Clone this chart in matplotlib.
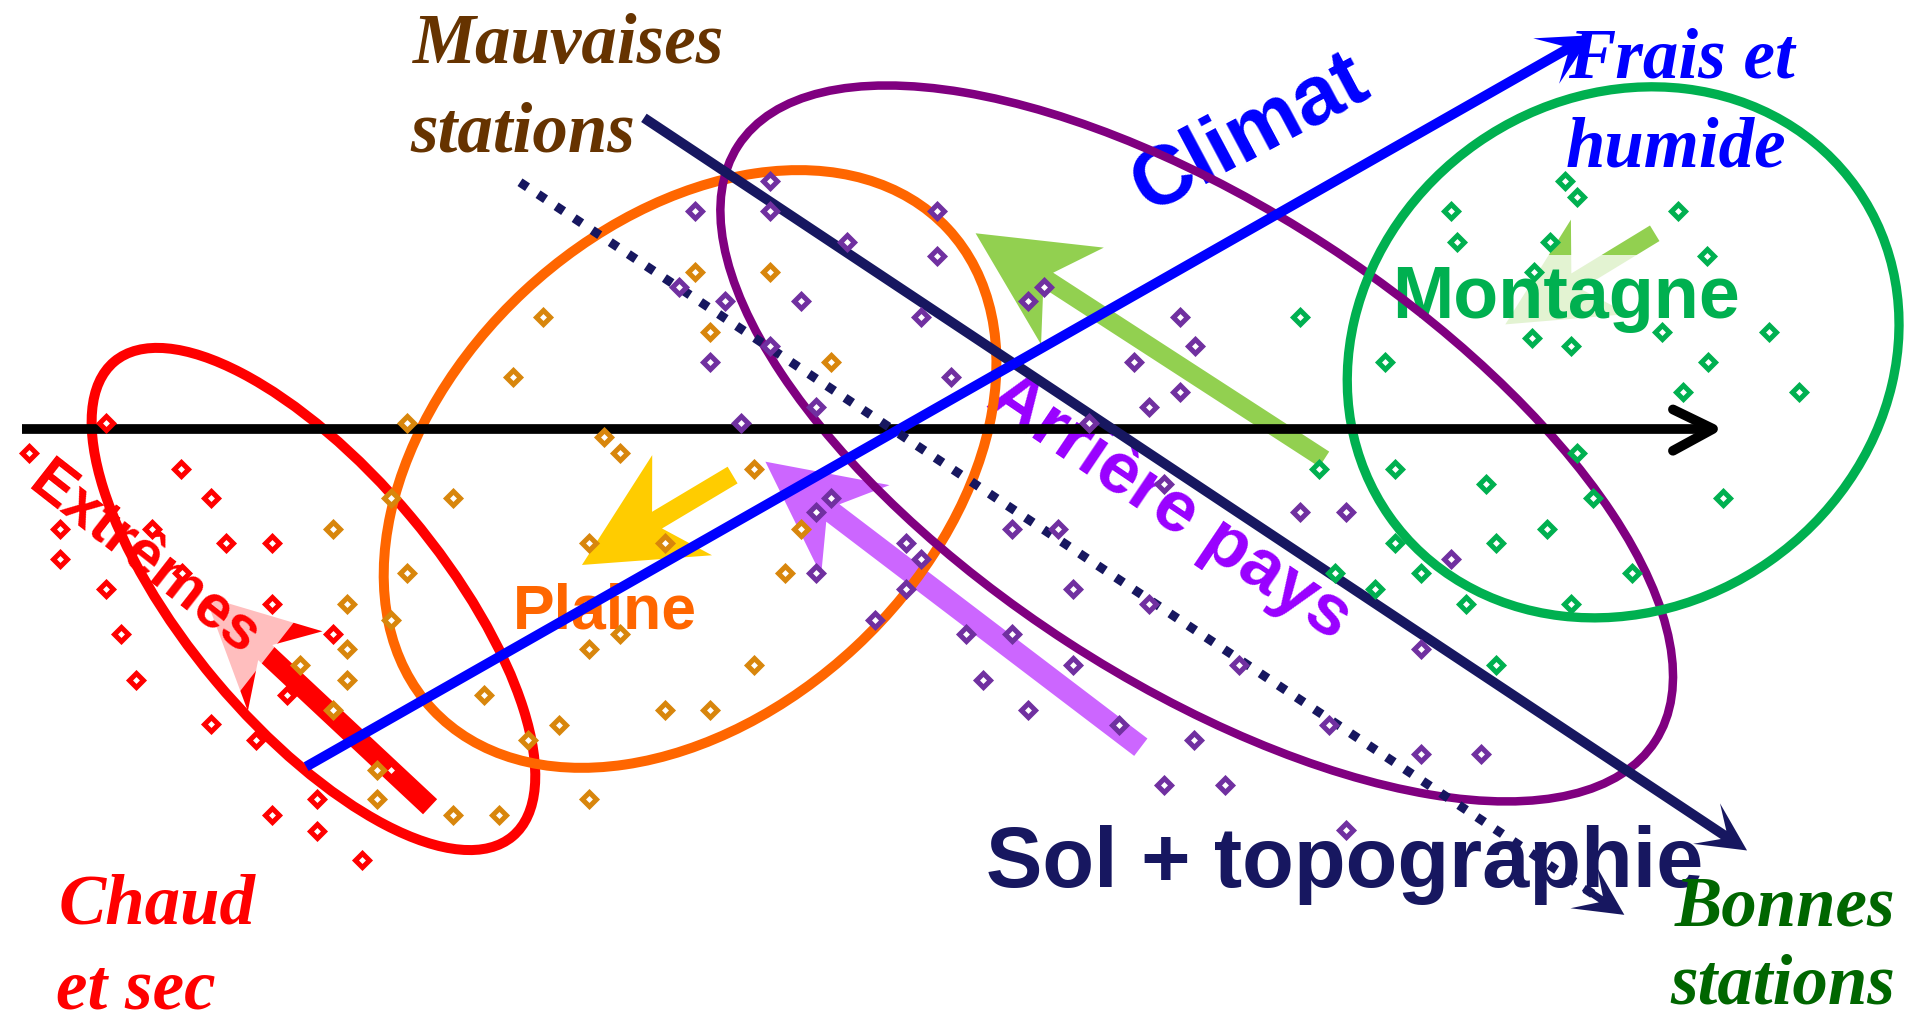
import matplotlib
matplotlib.use("Agg")
import matplotlib.pyplot as plt
from matplotlib.patches import Ellipse, FancyArrow

# drawing units follow the reference screen (1 unit = 1.215 px)
W, H = 1568, 842
PX = 1905 / W


def pt(u):
    """drawing units -> points"""
    return u * PX * 72 / 100


# ---- stations (hollow diamonds) ----
red_x = [87, 24, 149, 174, 49, 125, 186, 224, 49, 150, 87, 224, 100, 274,
         112, 236, 174, 211, 261, 224, 261, 298, 322]
red_y = [348, 373, 386, 410, 435, 435, 447, 447, 460, 472, 485, 497, 522, 522,
         560, 572, 596, 609, 658, 671, 684, 708, 634]

orange_x = [335, 422, 447, 497, 510, 572, 584, 634, 684, 621, 322, 373, 274,
            485, 547, 659, 646, 335, 286, 322, 510, 485, 286, 247, 286, 621,
            398, 274, 460, 547, 584, 435, 310, 310, 373, 411, 485]
orange_y = [348, 310, 261, 360, 373, 224, 273, 224, 298, 386, 410, 410, 435,
            447, 447, 435, 472, 472, 497, 510, 522, 534, 534, 547, 560, 547,
            572, 584, 597, 584, 584, 609, 634, 658, 671, 671, 658]

purple_x = [634, 572, 634, 771, 697, 771, 559, 597, 659, 758, 634, 584, 783,
            672, 610, 684, 672, 672, 746, 758, 746, 720, 795, 859, 846, 971,
            984, 933, 971, 946, 896, 958, 1070, 1108, 833, 871, 883, 946,
            833, 883, 809, 1020, 846, 921, 1194, 1170, 1094, 983, 1170, 1219,
            958, 1008, 1108]
purple_y = [149, 174, 174, 174, 199, 211, 236, 248, 248, 261, 285, 298, 310,
            335, 348, 410, 421, 472, 447, 460, 485, 510, 522, 236, 248, 261,
            285, 298, 323, 335, 348, 398, 421, 421, 435, 435, 485, 497,
            522, 547, 560, 547, 584, 597, 460, 534, 597, 609, 621, 621,
            646, 646, 683]

green_x = [1288, 1298, 1194, 1381, 1199, 1276, 1405, 1263, 1070, 1261, 1293,
           1368, 1456, 1140, 1406, 1385, 1481, 1298, 1086, 1148, 1223, 1311,
           1418, 1273, 1231, 1148, 1099, 1170, 1132, 1343, 1207, 1293, 1231]
green_y = [149, 162, 174, 174, 199, 199, 211, 224, 261, 278, 285, 273, 273,
           298, 298, 323, 323, 373, 386, 386, 398, 410, 410, 435, 447, 447,
           472, 472, 485, 472, 497, 497, 547]

# ---- groups (ellipses) ----
ell_center = [(258, 493), (568, 386), (985, 365), (1336, 290)]
ell_width = [510, 580, 900, 470]
ell_height = [210, 400, 390, 420]
ell_angle = [50, -43, 33, -35]
ell_color = ["#ff0000", "#ff6600", "#800080", "#00b050"]
ell_lw = [10, 10, 8.5, 9.3]  # px

# ---- block arrows: tail -> tip ----
blk_tail = [(354, 664), (603, 391), (939, 615), (1090, 378), (1362, 192)]
blk_tip = [(169, 491), (479, 465), (630, 380), (803, 192), (1239, 267)]
blk_width = [17, 16, 18, 15, 15]
blk_head = [90, 96, 93, 95, 91]
blk_color = ["#ff0000", "#ffcc00", "#cc66ff", "#92d050", "#92d050"]

# ---- axes of the diagram ----
navy = "#171760"
solid_tail, solid_tip = (530, 97), (1438, 700)
dotted_tail, dotted_tip = (428, 150), (1337, 753)
blue_tail, blue_tip = (252, 631), (1310, 29)
black_x = [18, 1410]
black_y = [353, 353]

fig = plt.figure(figsize=(19.05, 10.23), dpi=100)
ax = fig.add_axes([0, 0, 1, 1])
ax.set_xlim(0, W)
ax.set_ylim(H, 0)
ax.axis("off")

# block arrows
for (x0, y0), (x1, y1), w, hd, c in zip(blk_tail, blk_tip, blk_width,
                                         blk_head, blk_color):
    ax.add_patch(FancyArrow(x0, y0, x1 - x0, y1 - y0, width=w,
                            head_width=hd, head_length=hd, overhang=0.25,
                            length_includes_head=True, color=c, lw=0,
                            zorder=1))

# labels with translucent boxes go over the block arrows
box = dict(boxstyle="square,pad=0.12", fc="white", ec="none", alpha=0.75)
sans = "Liberation Sans"
ax.text(1289, 262, "Montagne", color="#00b050", fontsize=53, family=sans,
        weight="bold", ha="center", va="baseline", bbox=box, zorder=2)
ax.text(119, 461, "Extrêmes", color="#ff0000", fontsize=44, family=sans,
        weight="bold", ha="center", va="center", rotation=-38,
        rotation_mode="anchor", bbox=dict(box, boxstyle="square,pad=0.3"),
        zorder=2)
ax.text(1029, 110, "Climat", color="#0000ff", fontsize=60, family=sans,
        weight="bold", ha="center", va="center", rotation=28,
        rotation_mode="anchor", zorder=2)
ax.text(963, 418, "Arrière pays", color="#9900ff", fontsize=52, family=sans,
        weight="bold", ha="center", va="center", rotation=-34,
        rotation_mode="anchor", zorder=2)
ax.text(498, 517, "Plaine", color="#ff6600", fontsize=45, family=sans,
        weight="bold", ha="center", va="baseline", zorder=2)
ax.text(1107, 730, "Sol + topographie", color=navy, fontsize=61, family=sans,
        weight="bold", ha="center", va="baseline", zorder=2)

serif = dict(family="Liberation Serif", style="italic", weight="bold",
             fontsize=51, ha="left", va="baseline", zorder=2)
ax.text(340, 52, "Mauvaises", color="#663300", **serif)
ax.text(338, 125, "stations", color="#663300", **serif)
ax.text(1291, 64, "Frais et", color="#0000ff", **serif)
ax.text(1289, 137, "humide", color="#0000ff", **serif)
ax.text(48, 760, "Chaud", color="#ff0000", **serif)
ax.text(46, 830, "et sec", color="#ff0000", **serif)
ax.text(1378, 762, "Bonnes", color="#006600", **serif)
ax.text(1375, 826, "stations", color="#006600", **serif)

# ellipses
for c, w, h, a, col, lw in zip(ell_center, ell_width, ell_height, ell_angle,
                               ell_color, ell_lw):
    ax.add_patch(Ellipse(c, w, h, angle=a, fill=False, ec=col,
                         lw=lw * 0.72, zorder=3))

# horizontal black axis with open chevron
ax.plot(black_x, black_y, color="black", lw=7, solid_capstyle="butt",
        zorder=3)
ax.plot([black_x[1] - 33, black_x[1], black_x[1] - 33],
        [black_y[1] - 16, black_y[1], black_y[1] + 18], color="black", lw=7,
        solid_capstyle="round", solid_joinstyle="round", zorder=3)

# solid navy + blue arrows
for (x0, y0), (x1, y1), col, hd in [(solid_tail, solid_tip, navy, 40),
                                    (blue_tail, blue_tip, "#0000ff", 43)]:
    ax.add_patch(FancyArrow(x0, y0, x1 - x0, y1 - y0, width=8.2,
                            head_width=hd, head_length=hd, overhang=0.42,
                            length_includes_head=True, color=col, lw=0,
                            zorder=3))

# dotted navy arrow
dx = dotted_tip[0] - dotted_tail[0]
dy = dotted_tip[1] - dotted_tail[1]
L = (dx ** 2 + dy ** 2) ** 0.5
f = (L - 30) / L
ax.plot([dotted_tail[0], dotted_tail[0] + dx * f],
        [dotted_tail[1], dotted_tail[1] + dy * f], color=navy, lw=6.5,
        linestyle=(0, (1, 1.4)), dash_capstyle="butt", zorder=3)
hx, hy = dotted_tip[0] - dx * 40 / L, dotted_tip[1] - dy * 40 / L
ax.add_patch(FancyArrow(hx, hy, dx * 40 / L, dy * 40 / L, width=6,
                        head_width=40, head_length=40, overhang=0.42,
                        length_includes_head=True, color=navy, lw=0,
                        zorder=3))

# stations
for xs, ys, col in [(red_x, red_y, "#ff0000"), (orange_x, orange_y, "#d8860c"),
                    (purple_x, purple_y, "#7030a0"),
                    (green_x, green_y, "#00b050")]:
    ax.plot(xs, ys, linestyle="none", marker="D", markersize=7.6,
            markerfacecolor="white", markeredgecolor=col,
            markeredgewidth=3.6, zorder=4)

fig.savefig("out.png", dpi=100)
